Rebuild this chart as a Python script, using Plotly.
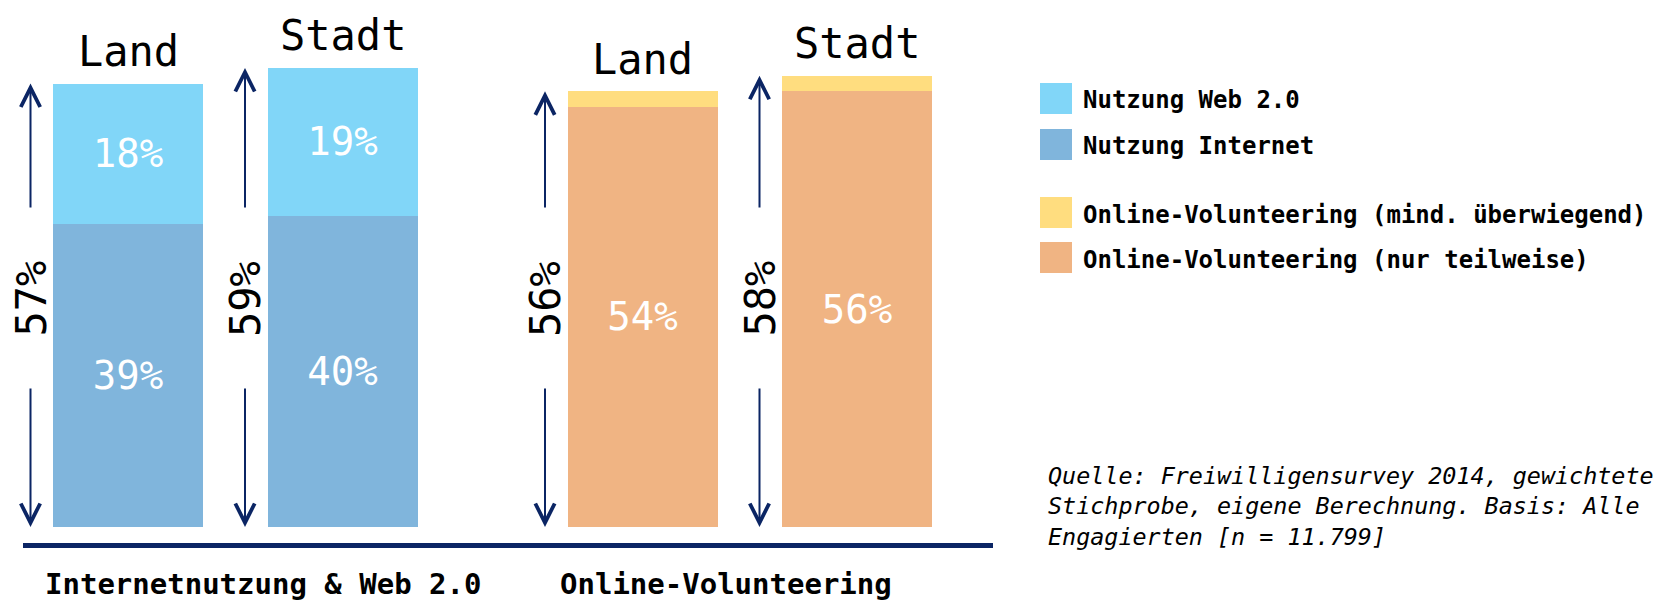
import plotly.graph_objects as go

# ---------------- data ----------------
areas = ["Land", "Stadt"]
group_labels = ["Internetnutzung & Web 2.0", "Online-Volunteering"]

internet = [39, 40]          # Nutzung Internet
web20 = [18, 19]             # Nutzung Web 2.0
ov_teilweise = [54, 56]      # Online-Volunteering (nur teilweise)
ov_ueberwiegend = [2, 2]     # Online-Volunteering (mind. überwiegend)
totals_internet = [57, 59]
totals_volunteering = [56, 58]

series_names = [
    "Nutzung Web 2.0",
    "Nutzung Internet",
    "Online-Volunteering (mind. überwiegend)",
    "Online-Volunteering (nur teilweise)",
]
source_lines = [
    "Quelle: Freiwilligensurvey 2014, gewichtete",
    "Stichprobe, eigene Berechnung. Basis: Alle",
    "Engagierten [n = 11.799]",
]

# ---------------- styles ----------------
C_WEB = "#81D6F8"
C_INT = "#80B5DC"
C_YEL = "#FFDD7F"
C_ORA = "#F0B483"
NAVY = "#0B2564"
MONO = "DejaVu Sans Mono"

W, H = 1665, 603
K = 7.78                 # px per percent
BASE_PX = 527            # pixel row of value 0
X0_PX, UNIT_PX = 128, 150

def xd(px):
    return (px - X0_PX) / UNIT_PX

def yd(py):
    return (BASE_PX - py) / K

GROUP_OFFSET = 3.43
BAR_STEP = 1.43
g1_x = [0 + i * BAR_STEP for i in range(len(areas))]
g2_x = [GROUP_OFFSET + i * BAR_STEP for i in range(len(areas))]

fig = go.Figure()

def pct(vals):
    return [f"{v}%" for v in vals]

inside_font = dict(family=MONO, size=39, color="white")

fig.add_trace(go.Bar(x=g1_x, y=internet, width=1, marker=dict(color=C_INT, line=dict(width=0)),
                     text=pct(internet), textposition="inside", insidetextanchor="middle",
                     textangle=0, textfont=inside_font, name=series_names[1], hoverinfo="skip"))
fig.add_trace(go.Bar(x=g1_x, y=web20, width=1, marker=dict(color=C_WEB, line=dict(width=0)),
                     text=pct(web20), textposition="inside", insidetextanchor="middle",
                     textangle=0, textfont=inside_font, name=series_names[0], hoverinfo="skip"))
fig.add_trace(go.Bar(x=g2_x, y=ov_teilweise, width=1, marker=dict(color=C_ORA, line=dict(width=0)),
                     text=pct(ov_teilweise), textposition="inside", insidetextanchor="middle",
                     textangle=0, textfont=inside_font, name=series_names[3], hoverinfo="skip"))
fig.add_trace(go.Bar(x=g2_x, y=ov_ueberwiegend, width=1, marker=dict(color=C_YEL, line=dict(width=0)),
                     name=series_names[2], hoverinfo="skip"))

annotations = []
shapes = []

UPPER_TAIL = yd(209)
LOWER_TAIL = yd(387)
LABEL_MID = yd(299)
ARROW_OFF = 0.65

for xs, totals in ((g1_x, totals_internet), (g2_x, totals_volunteering)):
    for x, area, tot in zip(xs, areas, totals):
        ax = x - ARROW_OFF
        # upward arrow
        annotations.append(dict(x=ax, y=tot, ax=ax, ay=UPPER_TAIL, xref="x", yref="y",
                                axref="x", ayref="y", text="", showarrow=True,
                                arrowhead=5, arrowsize=1.9, arrowwidth=2, arrowcolor=NAVY,
                                standoff=0, startstandoff=0))
        # downward arrow
        annotations.append(dict(x=ax, y=0, ax=ax, ay=LOWER_TAIL, xref="x", yref="y",
                                axref="x", ayref="y", text="", showarrow=True,
                                arrowhead=5, arrowsize=1.9, arrowwidth=2, arrowcolor=NAVY,
                                standoff=0, startstandoff=0))
        # total label
        annotations.append(dict(x=ax, y=LABEL_MID, xref="x", yref="y", text=f"{tot}%",
                                textangle=-90, showarrow=False, xanchor="center", yanchor="middle",
                                font=dict(family=MONO, size=42, color="black")))
        # area label above bar
        annotations.append(dict(x=x, y=tot, xref="x", yref="y", text=area, showarrow=False,
                                xanchor="center", yanchor="middle", yshift=32,
                                font=dict(family=MONO, size=42, color="black")))

# group labels
for xs, lab in ((g1_x, group_labels[0]), (g2_x, group_labels[1])):
    annotations.append(dict(x=xs[0] - 0.5, y=yd(584), xref="x", yref="y", text=lab,
                            showarrow=False, xanchor="left", yanchor="middle", xshift=-10,
                            font=dict(family=MONO, size=29, color="black", weight="bold")))

# baseline
shapes.append(dict(type="line", xref="x", yref="y", x0=xd(23), x1=xd(993),
                   y0=yd(545.5), y1=yd(545.5), line=dict(color=NAVY, width=5)))

# custom legend
legend_rows = [
    (series_names[0], C_WEB, 98.5),
    (series_names[1], C_INT, 144.5),
    (series_names[2], C_YEL, 212.5),
    (series_names[3], C_ORA, 257.5),
]
for name, col, cy in legend_rows:
    shapes.append(dict(type="rect", xref="paper", yref="paper",
                       x0=1040 / W, x1=1072 / W, y0=1 - (cy + 15.5) / H, y1=1 - (cy - 15.5) / H,
                       fillcolor=col, line=dict(width=0)))
    annotations.append(dict(x=1081 / W, y=1 - (cy + 2) / H, xref="paper", yref="paper",
                            text=name, showarrow=False, xanchor="left", yanchor="middle",
                            font=dict(family=MONO, size=24, color="black", weight="bold")))

# source note
annotations.append(dict(x=1046 / W, y=1 - 506 / H, xref="paper", yref="paper",
                        text="<br>".join(source_lines), showarrow=False, align="left",
                        xanchor="left", yanchor="middle",
                        font=dict(family=MONO, size=23.4, color="black", style="italic")))

fig.update_layout(
    width=W, height=H,
    margin=dict(l=0, r=0, t=0, b=0),
    paper_bgcolor="white", plot_bgcolor="white",
    barmode="stack",
    showlegend=False,
    xaxis=dict(range=[xd(0), xd(W)], visible=False, fixedrange=True),
    yaxis=dict(range=[yd(H), yd(0)], visible=False, fixedrange=True),
    annotations=annotations,
    shapes=shapes,
    uniformtext=dict(mode=False),
)

fig.write_html(
    "out.html",
    config={"displayModeBar": False},
    post_script="document.body.style.margin='0';document.body.style.overflow='hidden';",
)
